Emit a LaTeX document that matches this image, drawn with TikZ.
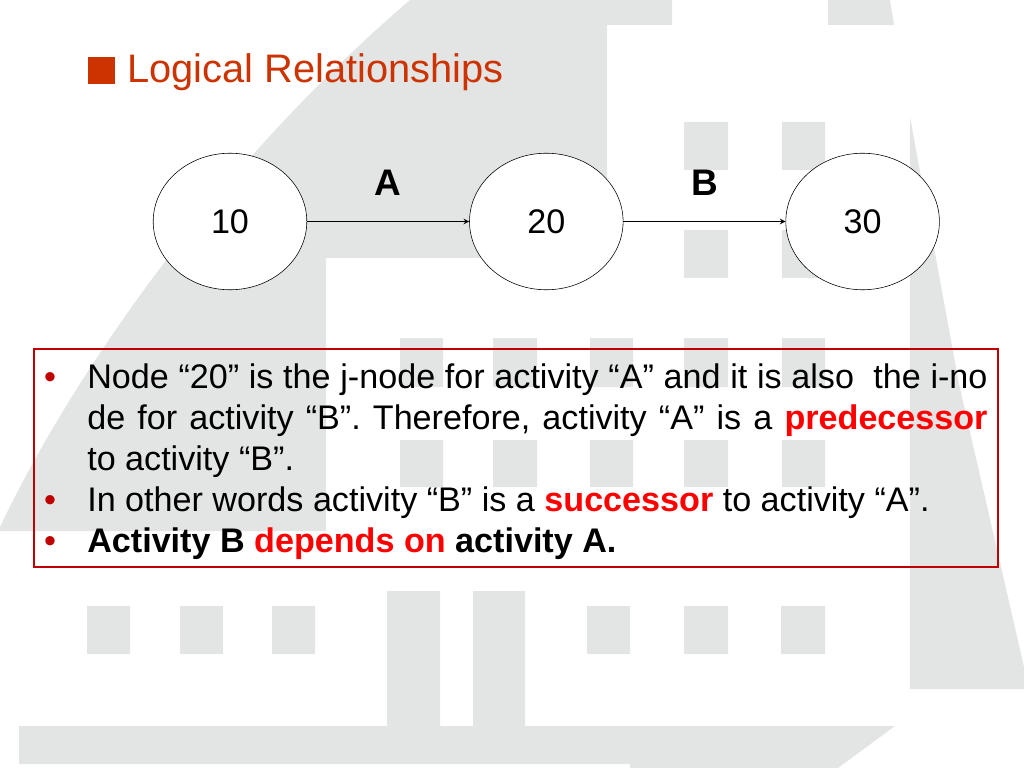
\documentclass[tikz,border=0pt]{standalone}
\usepackage{fontspec}
\setmainfont{Liberation Sans}
\usepackage{xcolor}
\usepackage{tikz}
\usetikzlibrary{arrows,positioning,shapes.geometric}
\definecolor{titlered}{HTML}{CC3300}
\definecolor{boxred}{HTML}{C00000}
\definecolor{hired}{HTML}{FF0000}
\definecolor{wmgray}{HTML}{E3E4E4}
\frenchspacing
\tikzset{
    >=stealth,
    font=\fontsize{24}{28.8}\selectfont,
    event/.style={ellipse,draw,fill=white,minimum width=108pt,minimum height=96pt,inner sep=0pt},
    activity label/.style={font=\fontsize{26}{30}\selectfont\bfseries,inner sep=0pt},
    body line/.style={anchor=base west,inner sep=0pt},
    bullet mark/.style={anchor=base,inner sep=0pt,text=boxred,font=\fontsize{24}{24}\selectfont},
    backdrop/.style={fill=wmgray}
}

\begin{document}
\begin{tikzpicture}[x=0.703125pt,y=-0.703125pt]
    \useasboundingbox (0,0) rectangle (1024,768);
    % background logo
    \fill[backdrop] (410,0) -- (672,0) -- (672,25) -- (607,25) -- (607,258) -- (326,258) -- (326,531) -- (0,531) -- (0,527) .. controls (60,400) and (200,180) .. (410,0) -- cycle;
    \fill[backdrop] (828,0) -- (890,0) -- (894,25) -- (828,25) -- cycle;
    \fill[backdrop] (910,117) -- (959,384) -- (1024,667) -- (1024,689) -- (910,689) -- cycle;
    \fill[backdrop] (684,122) rectangle (728,170) (782,122) rectangle (825,170)
        (684,230) rectangle (728,278) (782,230) rectangle (825,278);
    \fill[backdrop] (400,338) rectangle (443,387) (493,338) rectangle (537,387) (590,338) rectangle (633,387)
        (684,338) rectangle (728,387) (782,338) rectangle (825,387);
    \fill[backdrop] (400,440) rectangle (443,487) (493,440) rectangle (537,487) (590,440) rectangle (633,487)
        (684,440) rectangle (728,487) (782,440) rectangle (825,487);
    \fill[backdrop] (87,606) rectangle (130,654) (180,606) rectangle (223,654) (272,606) rectangle (315,654)
        (587,606) rectangle (630,654) (684,606) rectangle (728,654) (781,606) rectangle (825,654);
    \fill[backdrop] (387,591) rectangle (440,726) (473,591) rectangle (525,726);
    \fill[backdrop] (19,726) -- (895,726) -- (838,768) -- (630,768) -- (630,764) -- (19,764) -- cycle;

    % title
    \node[fill=titlered,minimum size=19pt,inner sep=0pt] (mark) at (101.5,70.5) {};
    \node[anchor=base west,inner sep=0pt,text=titlered,font=\fontsize{28}{32}\selectfont] (title) at (127,83) {Logical Relationships};

    % network
    \node[event] (10) at (230,221.5) {10};
    \node[event] (20) [right = 114pt of 10] {20};
    \node[event] (30) [right = 114pt of 20] {30};
    \path
        (10) [->, thick] edge node [activity label, above=18pt] {A} (20)
        (20) [->, thick] edge node [activity label, above=18pt] {B} (30)
        ;

    % text box
    \draw[boxred, line width=1.5pt] (34,349) rectangle (998,567);
    \node[bullet mark] (b1) at (50,388) {•};
    \node[bullet mark] (b2) at (50,511) {•};
    \node[bullet mark] (b3) at (50,552) {•};
    \node[body line] (l1) at (87,388) {\makebox[633pt][s]{Node “20” is the j-node for activity “A” and it is also \ the i-no}};
    \node[body line] (l2) at (87,429) {\makebox[633pt][s]{de for activity “B”. Therefore, activity “A” is a \textcolor{hired}{\bfseries predecessor}}};
    \node[body line] (l3) at (87,470) {to activity “B”.};
    \node[body line] (l4) at (87,511) {In other words activity “B” is a \textcolor{hired}{\bfseries successor} to activity “A”.};
    \node[body line] (l5) at (87,552) {\bfseries Activity B \textcolor{hired}{depends on} activity A.};
\end{tikzpicture}
\end{document}
